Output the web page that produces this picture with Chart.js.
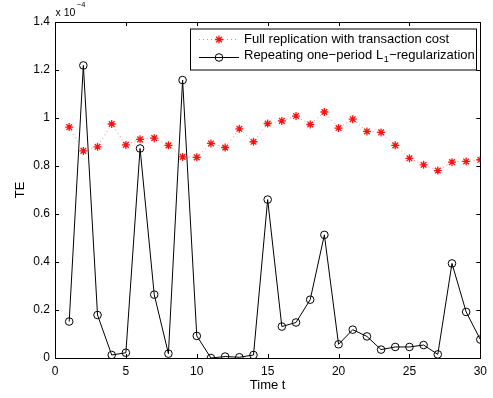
<!DOCTYPE html>
<html>
<head>
<meta charset="utf-8">
<script src="https://cdn.jsdelivr.net/npm/chart.js@4/dist/chart.umd.min.js"></script>
<style>
html,body{margin:0;padding:0;background:#fff;}
#wrap{width:493px;height:398px;}
</style>
</head>
<body>
<div id="wrap"><canvas id="c" width="493" height="398"></canvas></div>
<script>
// Data (TE values in units of 1e-4)
const timeT = [1,2,3,4,5,6,7,8,9,10,11,12,13,14,15,16,17,18,19,20,21,22,23,24,25,26,27,28,29,30];
const fullReplication = [0.962,0.863,0.880,0.975,0.888,0.911,0.916,0.886,0.838,0.836,0.894,0.877,0.955,0.901,0.977,0.988,1.008,0.973,1.025,0.958,0.995,0.944,0.940,0.886,0.832,0.805,0.781,0.816,0.819,0.826];
const repeatingL1 = [0.152,1.219,0.179,0.0125,0.022,0.873,0.264,0.018,1.158,0.092,0.0,0.006,0.003,0.0125,0.660,0.131,0.148,0.243,0.513,0.057,0.118,0.090,0.035,0.046,0.046,0.054,0.015,0.394,0.192,0.077];
const xTicks = [0,5,10,15,20,25,30];
const yTicks = [0,0.2,0.4,0.6,0.8,1,1.2,1.4];
const seriesLabels = ['Full replication with transaction cost', 'Repeating one\u2212period L', '1', '\u2212regularization'];
const xTitle = 'Time t';
const yTitle = 'TE';
const expBase = 'x 10';
const expPow = '\u22124';

const FONT = '"Liberation Sans", Arial, Helvetica, sans-serif';

const framePlugin = {
  id: 'frame',
  afterDraw(chart) {
    const ctx = chart.ctx;
    const a = chart.chartArea;
    const xs = chart.scales.x, ys = chart.scales.y;
    ctx.save();
    ctx.strokeStyle = '#000';
    ctx.lineWidth = 1;
    ctx.strokeRect(Math.round(a.left)+0.5, Math.round(a.top)+0.5, Math.round(a.right-a.left), Math.round(a.bottom-a.top));
    const tl = 4;
    ctx.beginPath();
    xTicks.forEach(v => {
      const px = Math.round(xs.getPixelForValue(v)) + 0.5;
      ctx.moveTo(px, a.bottom); ctx.lineTo(px, a.bottom - tl);
      ctx.moveTo(px, a.top); ctx.lineTo(px, a.top + tl);
    });
    yTicks.forEach(v => {
      const py = Math.round(ys.getPixelForValue(v)) + 0.5;
      ctx.moveTo(a.left, py); ctx.lineTo(a.left + tl, py);
      ctx.moveTo(a.right, py); ctx.lineTo(a.right - tl, py);
    });
    ctx.stroke();

    ctx.fillStyle = '#000';
    ctx.font = '13px ' + FONT;
    ctx.textAlign = 'center';
    ctx.textBaseline = 'middle';
    ctx.fillText(xTitle, (a.left + a.right) / 2, 385);
    ctx.save();
    ctx.translate(20, (a.top + a.bottom) / 2);
    ctx.rotate(-Math.PI / 2);
    ctx.fillText(yTitle, 0, 0);
    ctx.restore();

    ctx.textAlign = 'left';
    ctx.textBaseline = 'alphabetic';
    ctx.font = '10.5px ' + FONT;
    ctx.fillText(expBase, 55.5, 16);
    const w0 = ctx.measureText(expBase).width;
    ctx.font = '7.5px ' + FONT;
    ctx.fillText(expPow, 55.5 + w0 + 1.5, 7);

    const lx = 190, ly = 28.5, lw = 286, lh = 41;
    ctx.fillStyle = '#fff';
    ctx.fillRect(lx, ly, lw, lh);
    ctx.strokeStyle = '#000';
    ctx.lineWidth = 1;
    ctx.strokeRect(lx + 0.5, ly + 0.5, lw, lh);
    const rows = [39, 57];
    chart.data.datasets.forEach((ds, i) => {
      const y = rows[i];
      ctx.save();
      ctx.strokeStyle = ds.borderColor;
      ctx.lineWidth = ds.borderWidth;
      ctx.setLineDash(ds.borderDash || []);
      ctx.beginPath();
      ctx.moveTo(199, y + 0.5); ctx.lineTo(239, y + 0.5);
      ctx.stroke();
      ctx.restore();
      ctx.save();
      ctx.strokeStyle = ds.pointBorderColor;
      ctx.fillStyle = ds.pointBackgroundColor;
      ctx.lineWidth = ds.pointBorderWidth;
      Chart.helpers.drawPoint(ctx, {
        pointStyle: ds.pointStyle, radius: ds.pointRadius, rotation: 0,
        borderWidth: ds.pointBorderWidth
      }, 219, y + 0.5);
      ctx.restore();
    });
    ctx.fillStyle = '#000';
    ctx.font = '13px ' + FONT;
    ctx.textBaseline = 'middle';
    ctx.fillText(seriesLabels[0], 244, rows[0]);
    ctx.fillText(seriesLabels[1], 244, rows[1] - 2);
    let wx = 244 + ctx.measureText(seriesLabels[1]).width;
    ctx.font = '9px ' + FONT;
    ctx.fillText(seriesLabels[2], wx + 0.5, rows[1] + 3);
    wx += ctx.measureText(seriesLabels[2]).width + 1;
    ctx.font = '13px ' + FONT;
    ctx.fillText(seriesLabels[3], wx, rows[1] - 2);
    ctx.restore();
  }
};

new Chart(document.getElementById('c'), {
  type: 'line',
  data: {
    labels: timeT,
    datasets: [
      {
        label: seriesLabels[0],
        data: timeT.map((t, i) => ({x: t, y: fullReplication[i]})),
        borderColor: 'rgba(255,80,80,0.75)',
        borderWidth: 1,
        borderDash: [1, 3],
        pointStyle: 'star',
        pointRadius: 4,
        pointBorderWidth: 1.3,
        pointBorderColor: '#ff1010',
        pointBackgroundColor: '#ff1010',
        tension: 0,
        fill: false
      },
      {
        label: seriesLabels[1] + seriesLabels[2] + seriesLabels[3],
        data: timeT.map((t, i) => ({x: t, y: repeatingL1[i]})),
        borderColor: '#000',
        borderWidth: 1,
        pointStyle: 'circle',
        pointRadius: 3.8,
        pointBorderWidth: 1,
        pointBorderColor: '#000',
        pointBackgroundColor: 'rgba(0,0,0,0)',
        tension: 0,
        fill: false
      }
    ]
  },
  options: {
    responsive: false,
    animation: false,
    devicePixelRatio: 1,
    layout: { padding: { top: 22, right: 11, left: 0, bottom: 0 } },
    plugins: { legend: { display: false }, tooltip: { enabled: false } },
    scales: {
      x: {
        type: 'linear', min: 0, max: 30,
        afterFit(s) { s.height = 40; },
        afterBuildTicks(s) { s.ticks = xTicks.map(v => ({value: v})); },
        grid: { display: false, drawTicks: false },
        border: { display: false },
        ticks: { color: '#000', font: { size: 12, family: FONT }, padding: 6, maxRotation: 0,
                 callback: v => String(v) }
      },
      y: {
        type: 'linear', min: 0, max: 1.4,
        afterFit(s) { s.width = 55; },
        afterBuildTicks(s) { s.ticks = yTicks.map(v => ({value: v})); },
        grid: { display: false, drawTicks: false },
        border: { display: false },
        ticks: { color: '#000', font: { size: 12, family: FONT }, padding: 5,
                 callback: v => String(+(+v).toFixed(1)) }
      }
    }
  },
  plugins: [framePlugin]
});
</script>
</body>
</html>
